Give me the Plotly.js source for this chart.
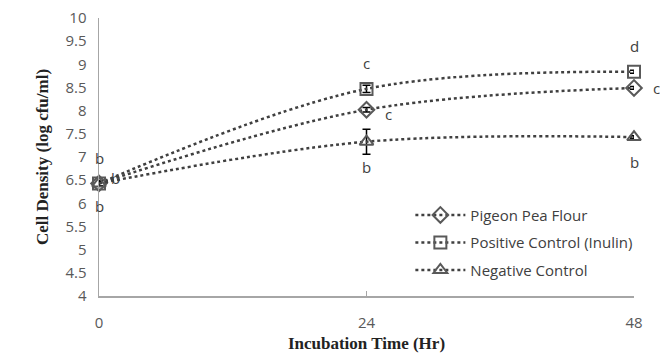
<!DOCTYPE html>
<html><head><meta charset="utf-8">
<script src="https://cdn.plot.ly/plotly-3.0.1.min.js"></script>
<style>body{margin:0;background:#fff}#chart{width:660px;height:356px}</style>
</head><body><div id="chart"></div>
<script>
const hours = [0, 24, 48];
const pigeonPea = [6.43, 8.02, 8.49];
const pigeonPeaErr = [0.05, 0.05, 0.03];
const positive = [6.43, 8.47, 8.84];
const positiveErr = [0.05, 0.08, 0.03];
const negative = [6.43, 7.33, 7.43];
const negativeErr = [0.05, 0.27, 0.03];
const seriesNames = ['Pigeon Pea Flour', 'Positive Control (Inulin)', 'Negative Control'];
const letters = [
  {x: 0, y: 6.98, t: 'b', dx: 0}, {x: 0, y: 5.95, t: 'b', dx: 0}, {x: 0, y: 6.54, t: 'b', dx: 16},
  {x: 24, y: 9.03, t: 'c', dx: 0}, {x: 24, y: 7.93, t: 'c', dx: 22}, {x: 24, y: 6.78, t: 'b', dx: 0},
  {x: 48, y: 9.4, t: 'd', dx: 0}, {x: 48, y: 8.5, t: 'c', dx: 22}, {x: 48, y: 6.9, t: 'b', dx: 0}
];
const lineColor = '#404040', markColor = '#595959';
function tr(name, y, err, sym) {
  return {x: hours, y: y, name: name, legendgroup: name, type: 'scatter', mode: 'lines+markers', cliponaxis: false,
    line: {shape: 'spline', dash: 'dot', color: lineColor, width: 2.5},
    marker: {symbol: sym, size: 12, color: markColor, line: {color: markColor, width: 2}},
    error_y: {type: 'data', array: err, visible: true, color: '#000', thickness: 1.5, width: 4}};
}
const data = [
  tr(seriesNames[0], pigeonPea, pigeonPeaErr, 'diamond-open'),
  tr(seriesNames[1], positive, positiveErr, 'square-open'),
  tr(seriesNames[2], negative, negativeErr, 'triangle-up-open')
];
const layout = {
  width: 660, height: 356, margin: {l: 99, r: 26, t: 18, b: 60},
  paper_bgcolor: '#fff', plot_bgcolor: '#fff', showlegend: true,
  font: {family: 'Open Sans, Liberation Sans, sans-serif', color: '#595959', size: 15},
  xaxis: {range: [0, 48], tickvals: hours, ticktext: hours.map(String), showgrid: false, zeroline: false,
    showline: true, linecolor: '#a6a6a6', linewidth: 1.5, ticks: 'inside', ticklen: 5, tickcolor: '#a6a6a6',
    ticklabelstandoff: 12,
    title: {text: 'Incubation Time (Hr)', font: {family: 'Liberation Serif', size: 17, color: '#222', weight: 'bold'}, standoff: 6}},
  yaxis: {range: [4, 10], dtick: 0.5, showgrid: false, zeroline: false, showline: true, linecolor: '#a6a6a6', linewidth: 1.5,
    ticks: '', ticklabelstandoff: 8,
    title: {text: 'Cell Density (log cfu/ml)', font: {family: 'Liberation Serif', size: 17, color: '#222', weight: 'bold'}, standoff: 12}},
  legend: {x: 0.582, y: 0.35, xanchor: 'left', yanchor: 'top', font: {size: 15, color: '#404040'},
    bgcolor: 'rgba(0,0,0,0)', tracegroupgap: 5, itemwidth: 50},
  annotations: letters.map(l => ({x: l.x, y: l.y, xshift: l.dx, text: l.t, showarrow: false, xref: 'x', yref: 'y',
    font: {size: 15, color: '#404040'}}))
};
Plotly.newPlot('chart', data, layout, {staticPlot: true});
</script></body></html>
